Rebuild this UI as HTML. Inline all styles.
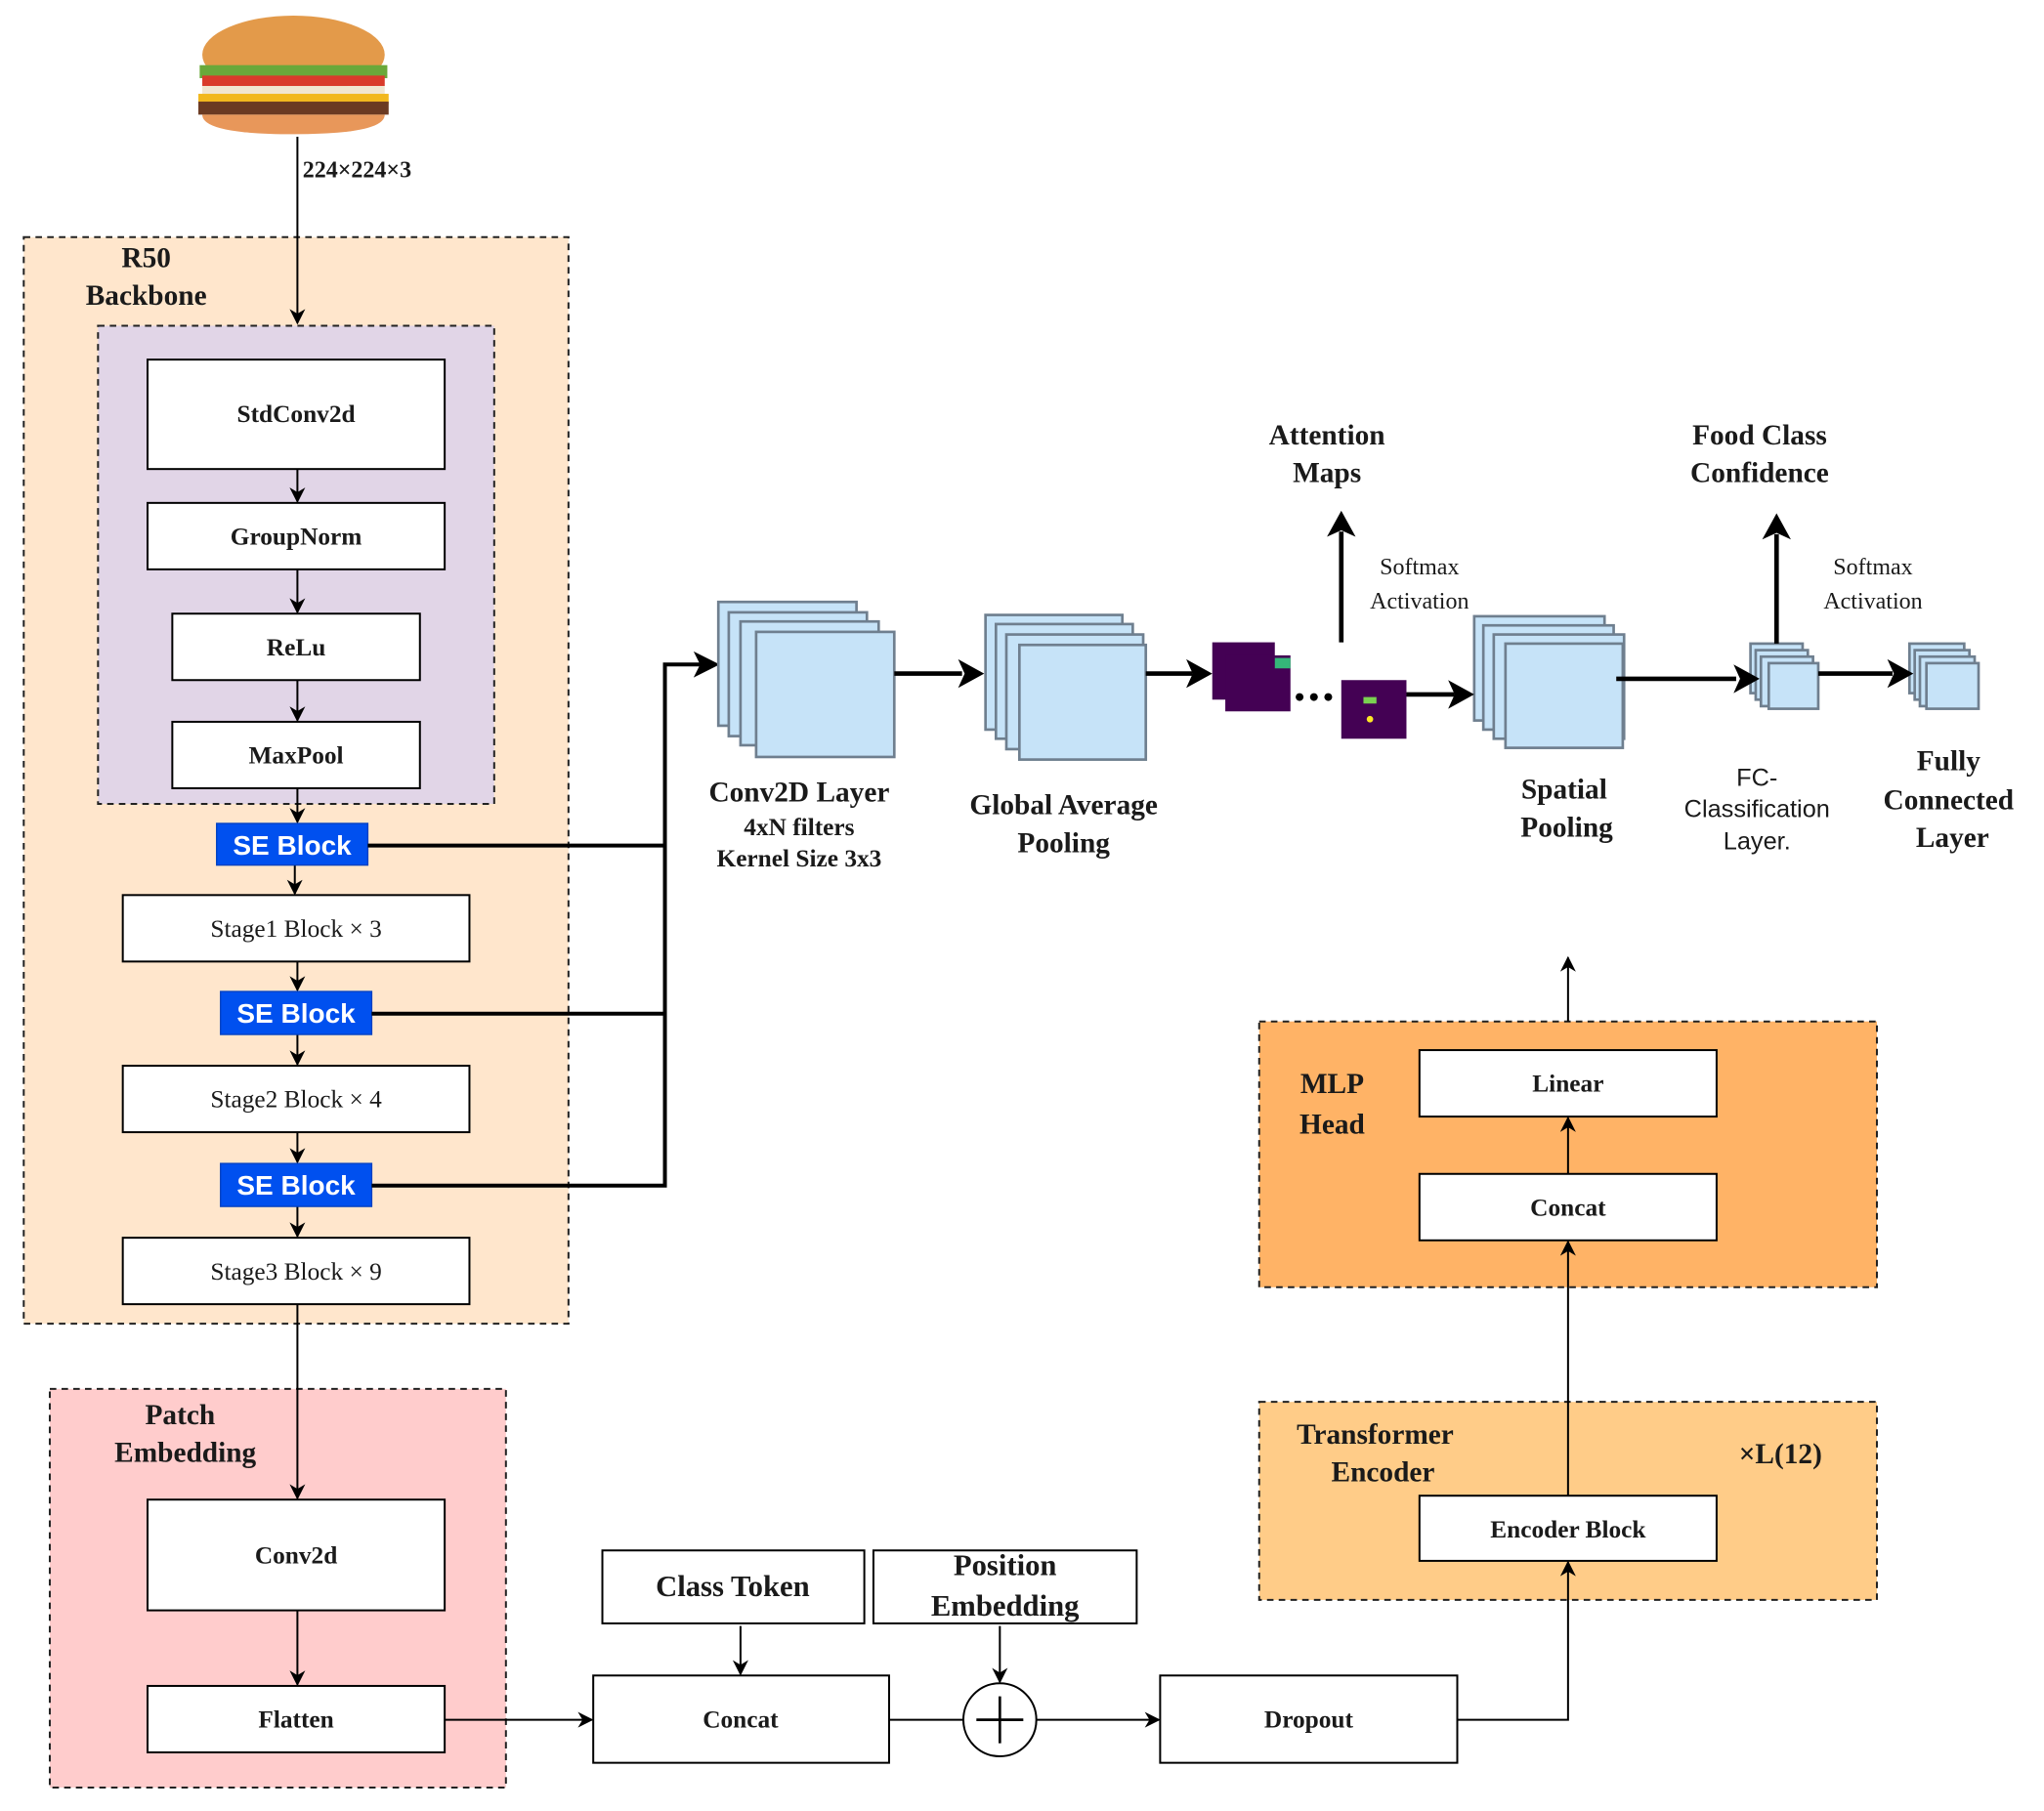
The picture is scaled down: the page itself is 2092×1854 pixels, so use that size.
<!DOCTYPE html>
<html><head><meta charset="utf-8"><style>
html,body{margin:0;padding:0;background:#fff;}
svg{display:block;}
text{font-family:"Liberation Serif",serif;font-weight:bold;fill:#1a1a1a;}
text.se{font-family:"Liberation Sans",sans-serif;fill:#fff;font-weight:bold;}
text.n{font-weight:normal;}
text.s{font-family:"Liberation Sans",sans-serif;font-weight:normal;}
</style></head><body>
<svg width="2092" height="1854" viewBox="0 0 1568 1390" xmlns="http://www.w3.org/2000/svg">
<defs>
<marker id="b" viewBox="0 0 10 10" refX="9" refY="5" markerWidth="6" markerHeight="6" markerUnits="userSpaceOnUse" orient="auto-start-reverse"><path d="M0,0 L10,5 L0,10 L3,5 z" fill="#000"/></marker>
</defs>
<defs><marker id="c" viewBox="0 0 10 10" refX="9" refY="5" markerWidth="12" markerHeight="12" markerUnits="userSpaceOnUse" orient="auto-start-reverse"><path d="M0,0 L10,5 L0,10 L3,5 z" fill="#000"/></marker></defs>
<!-- burger -->
<ellipse cx="225" cy="42" rx="70" ry="30" fill="#e39a4a"/>
<rect x="153" y="50" width="144" height="10" fill="#6aa83a"/>
<rect x="155" y="58" width="140" height="8" fill="#d93b2b"/>
<rect x="155" y="66" width="140" height="6" fill="#f1e6d0"/>
<rect x="152" y="72" width="146" height="8" fill="#f2b81e"/>
<rect x="152" y="78" width="146" height="10" fill="#6b3a22"/>
<path d="M155 88 L295 88 Q295 103 225 103 Q155 103 155 88z" fill="#e8975a"/>
<!-- R50 backbone -->
<rect x="18" y="182" width="418" height="834" fill="#ffe6cc" stroke="#222" stroke-width="1.5" stroke-dasharray="5,4"/>
<text x="112" y="205" font-size="22" text-anchor="middle">R50</text>
<text x="112" y="234" font-size="22" text-anchor="middle">Backbone</text>
<rect x="75" y="250" width="304" height="367" fill="#e1d5e7" stroke="#222" stroke-width="1.5" stroke-dasharray="5,4"/>
<line x1="228" y1="105" x2="228" y2="248" stroke="#000" stroke-width="1.5" marker-end="url(#c)"/>
<text x="232" y="136" font-size="18">224×224×3</text>
<!-- Patch embedding box -->
<rect x="38" y="1066" width="350" height="306" fill="#ffcccc" stroke="#222" stroke-width="1.5" stroke-dasharray="5,4"/>
<text x="138" y="1093" font-size="22" text-anchor="middle">Patch</text>
<text x="142" y="1122" font-size="22" text-anchor="middle">Embedding</text>
<g stroke="#000" stroke-width="1.5" fill="#fff">
<rect x="113" y="276" width="228" height="84"/>
<rect x="113" y="386" width="228" height="51"/>
<rect x="132" y="471" width="190" height="51"/>
<rect x="132" y="554" width="190" height="51"/>
<rect x="94" y="687" width="266" height="51"/>
<rect x="94" y="818" width="266" height="51"/>
<rect x="94" y="950" width="266" height="51"/>
</g>
<g font-size="19" text-anchor="middle">
<text x="227" y="324">StdConv2d</text>
<text x="227" y="418">GroupNorm</text>
<text x="227" y="503">ReLu</text>
<text x="227" y="586">MaxPool</text>
</g>
<g font-size="19" text-anchor="middle">
<text class="n" x="227" y="719">Stage1 Block × 3</text>
<text class="n" x="227" y="850">Stage2 Block × 4</text>
<text class="n" x="227" y="982">Stage3 Block × 9</text>
</g>
<g stroke="#000" stroke-width="1.5" fill="none">
<line x1="228" y1="360" x2="228" y2="385" marker-end="url(#c)"/>
<line x1="228" y1="437" x2="228" y2="470" marker-end="url(#c)"/>
<line x1="228" y1="522" x2="228" y2="553" marker-end="url(#c)"/>
<line x1="228" y1="605" x2="228" y2="631" marker-end="url(#c)"/>
<line x1="226" y1="664" x2="226" y2="686" marker-end="url(#c)"/>
<line x1="228" y1="738" x2="228" y2="760" marker-end="url(#c)"/>
<line x1="228" y1="794" x2="228" y2="817" marker-end="url(#c)"/>
<line x1="228" y1="869" x2="228" y2="892" marker-end="url(#c)"/>
<line x1="228" y1="926" x2="228" y2="949" marker-end="url(#c)"/>
<line x1="228" y1="1001" x2="228" y2="1150" marker-end="url(#c)"/>
</g>
<!-- SE blocks -->
<g fill="#0050ef" stroke="#0040c0">
<rect x="166" y="632" width="116" height="32"/>
<rect x="169" y="761" width="116" height="33"/>
<rect x="169" y="893" width="116" height="33"/>
</g>
<g font-size="21" text-anchor="middle">
<text class="se" x="224" y="656">SE Block</text>
<text class="se" x="227" y="785">SE Block</text>
<text class="se" x="227" y="917">SE Block</text>
</g>
<g stroke="#000" stroke-width="3" fill="none">
<line x1="282" y1="649" x2="510" y2="649"/>
<line x1="285" y1="778" x2="510" y2="778"/>
<polyline points="285,910 510,910 510,510 540,510"/>
</g>
<path d="M552,510 L532,500 L537,510 L532,520z" fill="#000"/>
<g stroke="#000" stroke-width="1.5" fill="#fff">
<rect x="113" y="1151" width="228" height="85"/>
<rect x="113" y="1294" width="228" height="51"/>
<rect x="455" y="1286" width="227" height="67"/>
<rect x="462" y="1190" width="201" height="56"/>
<rect x="670" y="1190" width="202" height="56"/>
<rect x="890" y="1286" width="228" height="67"/>
<circle cx="767" cy="1320" r="28"/>
</g>
<g font-size="19" text-anchor="middle">
<text x="227" y="1200">Conv2d</text>
<text x="227" y="1326">Flatten</text>
<text x="568" y="1326">Concat</text>
<text x="1004" y="1326">Dropout</text>
</g>
<text x="562" y="1225" font-size="23" text-anchor="middle">Class Token</text>
<text x="771" y="1209" font-size="23" text-anchor="middle">Position</text>
<text x="771" y="1240" font-size="23" text-anchor="middle">Embedding</text>
<g stroke="#000" stroke-width="2">
<line x1="767" y1="1302" x2="767" y2="1338"/><line x1="749" y1="1320" x2="785" y2="1320"/>
</g>
<g stroke="#000" stroke-width="1.5" fill="none">
<line x1="228" y1="1236" x2="228" y2="1293" marker-end="url(#c)"/>
<line x1="341" y1="1320" x2="454" y2="1320" marker-end="url(#c)"/>
<line x1="568" y1="1248" x2="568" y2="1285" marker-end="url(#c)"/>
<line x1="767" y1="1248" x2="767" y2="1291" marker-end="url(#c)"/>
<line x1="682" y1="1320" x2="739" y2="1320"/>
<line x1="795" y1="1320" x2="889" y2="1320" marker-end="url(#c)"/>
</g>
<!-- Transformer / MLP -->
<rect x="966" y="1076" width="474" height="152" fill="#ffcc88" stroke="#222" stroke-width="1.5" stroke-dasharray="5,4"/>
<rect x="966" y="784" width="474" height="204" fill="#ffb366" stroke="#222" stroke-width="1.5" stroke-dasharray="5,4"/>
<text x="1055" y="1108" font-size="22" text-anchor="middle">Transformer</text>
<text x="1061" y="1137" font-size="22" text-anchor="middle">Encoder</text>
<text x="1366" y="1123" font-size="22" text-anchor="middle">×L(12)</text>
<text x="1022" y="839" font-size="22" text-anchor="middle">MLP</text>
<text x="1022" y="870" font-size="22" text-anchor="middle">Head</text>
<g stroke="#000" stroke-width="1.5" fill="#fff">
<rect x="1089" y="1148" width="228" height="50"/>
<rect x="1089" y="806" width="228" height="51"/>
<rect x="1089" y="901" width="228" height="51"/>
</g>
<g font-size="19" text-anchor="middle">
<text x="1203" y="1180">Encoder Block</text>
<text x="1203" y="838">Linear</text>
<text x="1203" y="933">Concat</text>
</g>
<g stroke="#000" stroke-width="1.5" fill="none">
<polyline points="1118,1320 1203,1320 1203,1199" marker-end="url(#c)"/>
<line x1="1203" y1="1148" x2="1203" y2="953" marker-end="url(#c)"/>
<line x1="1203" y1="901" x2="1203" y2="858" marker-end="url(#c)"/>
<line x1="1203" y1="784" x2="1203" y2="735" marker-end="url(#c)"/>
</g>
<!-- feature stacks -->
<g fill="#c6e3f8" stroke="#6f7f8f" stroke-width="2">
<rect x="551" y="462" width="106" height="95"/>
<rect x="559" y="470" width="106" height="95"/>
<rect x="568" y="477" width="106" height="95"/>
<rect x="580" y="485" width="106" height="96"/>
<rect x="756" y="472" width="105" height="88"/>
<rect x="764" y="479" width="105" height="88"/>
<rect x="772" y="487" width="105" height="88"/>
<rect x="782" y="495" width="97" height="88"/>
<rect x="1131" y="473" width="100" height="80"/>
<rect x="1138" y="480" width="100" height="80"/>
<rect x="1146" y="487" width="100" height="80"/>
<rect x="1155" y="494" width="90" height="80"/>
<rect x="1343" y="494" width="40" height="38"/>
<rect x="1347" y="499" width="40" height="38"/>
<rect x="1351" y="504" width="40" height="38"/>
<rect x="1357" y="509" width="38" height="35"/>
<rect x="1465" y="494" width="42" height="38"/>
<rect x="1469" y="499" width="42" height="38"/>
<rect x="1473" y="504" width="42" height="38"/>
<rect x="1478" y="509" width="40" height="35"/>
</g>
<!-- attention maps -->
<rect x="930" y="493" width="48" height="44" fill="#440154"/>
<rect x="940" y="503" width="50" height="43" fill="#440154"/>
<rect x="978" y="505" width="12" height="8" fill="#35b779"/>
<rect x="1029" y="522" width="50" height="45" fill="#440154"/>
<rect x="1046" y="535" width="10" height="5" fill="#7ad151"/>
<circle cx="1051" cy="552" r="2.5" fill="#fde725"/>
<circle cx="997" cy="535" r="3" fill="#000"/><circle cx="1008" cy="535" r="3" fill="#000"/><circle cx="1019" cy="535" r="3" fill="#000"/>
<!-- thick arrows -->
<g stroke="#000" stroke-width="3.5" fill="none">
<line x1="686" y1="517" x2="738" y2="517"/>
<line x1="879" y1="517" x2="915" y2="517"/>
<line x1="1079" y1="533" x2="1116" y2="533"/>
<line x1="1240" y1="521" x2="1332" y2="521"/>
<line x1="1395" y1="517" x2="1452" y2="517"/>
<line x1="1029" y1="493" x2="1029" y2="408"/>
<line x1="1363" y1="494" x2="1363" y2="410"/>
</g>
<g fill="#000">
<path d="M755,517 L735,506 L740,517 L735,528z"/>
<path d="M930,517 L910,506 L915,517 L910,528z"/>
<path d="M1131,533 L1111,522 L1116,533 L1111,544z"/>
<path d="M1350,521 L1330,510 L1335,521 L1330,532z"/>
<path d="M1468,517 L1448,506 L1453,517 L1448,528z"/>
<path d="M1029,392 L1018,412 L1029,407 L1040,412z"/>
<path d="M1363,394 L1352,414 L1363,409 L1374,414z"/>
</g>
<!-- labels -->
<g font-size="22" text-anchor="middle">
<text x="1018" y="341">Attention</text>
<text x="1018" y="370">Maps</text>
<text x="1350" y="341">Food Class</text>
<text x="1350" y="370">Confidence</text>
<text x="613" y="615">Conv2D Layer</text>
<text x="816" y="625">Global Average</text>
<text x="816" y="654">Pooling</text>
<text x="1200" y="613">Spatial</text>
<text x="1202" y="642">Pooling</text>
<text x="1495" y="591">Fully</text>
<text x="1495" y="621">Connected</text>
<text x="1498" y="650">Layer</text>
</g>
<g font-size="19" text-anchor="middle">
<text x="613" y="641">4xN filters</text>
<text x="613" y="665">Kernel Size 3x3</text>
</g>
<g font-size="18" text-anchor="middle">
<text class="n" x="1089" y="441">Softmax</text>
<text class="n" x="1089" y="467">Activation</text>
<text class="n" x="1437" y="441">Softmax</text>
<text class="n" x="1437" y="467">Activation</text>
</g>
<g font-size="19" text-anchor="middle">
<text class="s" x="1348" y="603">FC-</text>
<text class="s" x="1348" y="627">Classification</text>
<text class="s" x="1348" y="652">Layer.</text>
</g>
</svg>
</body></html>
